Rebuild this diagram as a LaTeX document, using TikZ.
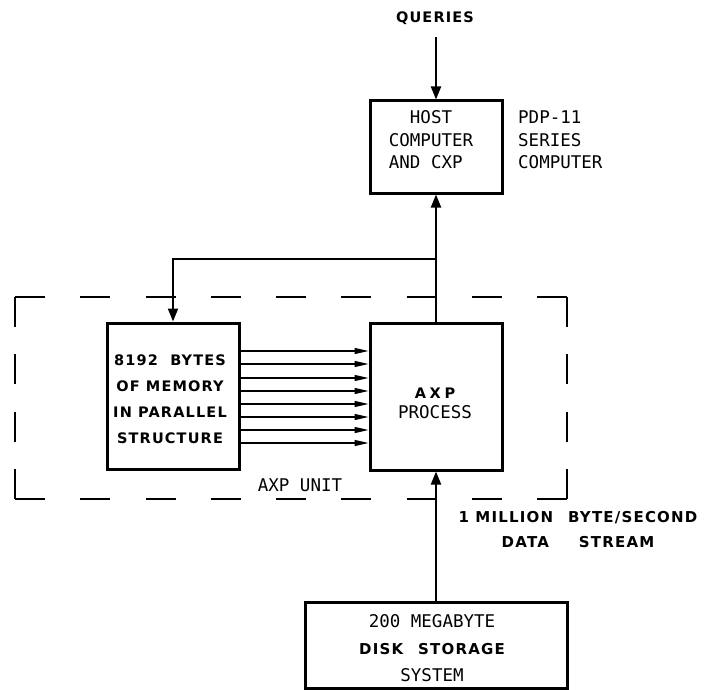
\documentclass[tikz,border=0pt]{standalone}
\usepackage{fontspec}
\setmainfont{DejaVu Sans Mono}
\newfontfamily\boldf[LetterSpace=8]{DejaVu Sans}
\usetikzlibrary{arrows.meta}
\begin{document}
\begin{tikzpicture}[x=1pt,y=-1pt,
  box/.style={draw, line width=3pt, inner sep=0pt},
  conn/.style={line width=2pt, -{Triangle[length=13pt,width=10pt]}},
  par/.style={line width=1.3pt, -{Triangle[length=14pt,width=6pt]}},
  dsh/.style={line width=1.6pt},
  plain/.style={font=\fontsize{17.5}{22.5}\selectfont, inner sep=0pt},
  bold/.style={font=\boldf\bfseries\fontsize{14.5}{25}\selectfont, inner sep=0pt}]
\useasboundingbox (0,0) rectangle (704,690);

% boxes
\node[box, minimum width=132pt, minimum height=92pt] (host) at (436,147) {};
\node[box, minimum width=132pt, minimum height=146pt] (mem) at (173,396) {};
\node[box, minimum width=132pt, minimum height=147pt] (axp) at (436,396.5) {};
\node[box, minimum width=262pt, minimum height=86pt] (disk) at (436,645) {};

% texts
\node[bold] (queries) at (435,18) {QUERIES};
\node[plain, align=left] (hostt) at (431,140) {\hphantom{CO}HOST\\COMPUTER\\AND CXP};
\node[plain, align=left, anchor=west] (pdp) at (518,140) {PDP-11\\SERIES\\COMPUTER};
\node[bold, align=center, font=\boldf\bfseries\fontsize{14.5}{26}\selectfont] (memt) at (170,399)
  {8192\ \ BYTES\\OF MEMORY\\IN PARALLEL\\STRUCTURE};
\node[plain, align=center, font=\fontsize{17.5}{20}\selectfont] (axpt) at (435,403)
  {{\boldf\bfseries\fontsize{14.5}{20}\selectfont\addfontfeature{LetterSpace=25}AXP}\\PROCESS};
\node[plain] (unit) at (300,485) {AXP UNIT};
\node[bold, align=center, font=\boldf\bfseries\fontsize{15}{25}\selectfont] (rate) at (578,529.5)
  {1 MILLION\quad BYTE/SECOND\\DATA\qquad STREAM};
\node[plain, align=center, font=\fontsize{17.5}{27}\selectfont] (diskt) at (432,648)
  {200 MEGABYTE\\{\boldf\bfseries\fontsize{15}{27}\selectfont DISK\quad STORAGE}\\SYSTEM};

% dashed AXP unit boundary
\coordinate (tl) at (15,297);
\coordinate (tr) at (567,297);
\coordinate (br) at (567,499);
\coordinate (bl) at (15,499);
\draw[dsh, dash pattern=on 30pt off 35.25pt] (tl) -- (tr);
\draw[dsh, dash pattern=on 30pt off 35.25pt] (bl) -- (br);
\draw[dsh, dash pattern=on 30pt off 27.33pt] (tr) -- (br);
\draw[dsh, dash pattern=on 30pt off 27.33pt] (tl) -- (bl);

% connectors
\coordinate (qs) at (436,37);
\draw[conn] (qs) -- (host.north);
\draw[conn] (axp.north) -- (host.south);
\coordinate (j) at (436,259);
\draw[conn] (j) -| (mem.north);
\draw[conn] (disk.north) -- (axp.south);
\foreach \y in {351,364,378,391,404,417,430,443} {
  \coordinate (py) at (0,\y);
  \draw[par] (mem.east |- py) -- (axp.west |- py);
}
\end{tikzpicture}
\end{document}
